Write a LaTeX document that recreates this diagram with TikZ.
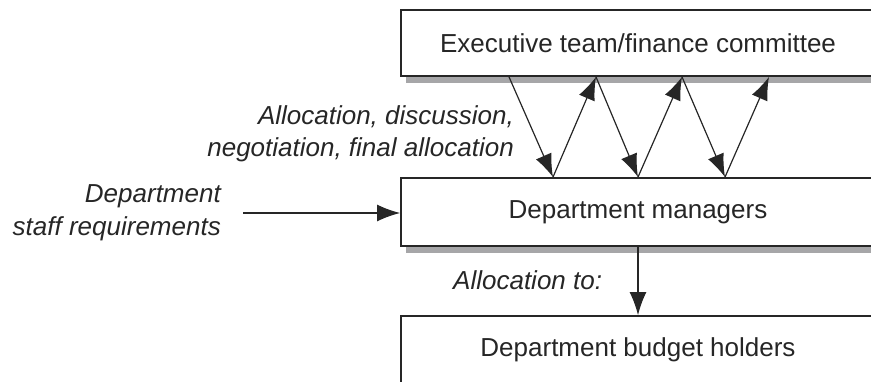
\documentclass[tikz,border=0pt]{standalone}
\usepackage{fontspec}
\setmainfont{Liberation Sans}
\usetikzlibrary{arrows.meta,shadows}
\definecolor{ink}{HTML}{262626}
\definecolor{shade}{HTML}{A6A6A8}
\begin{document}
\begin{tikzpicture}[x=1pt,y=-1pt,
  box/.style={draw=ink,line width=1.8pt,fill=white,minimum width=474pt,inner sep=0pt,
    font=\fontsize{26}{32}\selectfont,text=ink,
    drop shadow={shadow xshift=5pt,shadow yshift=-7pt,fill=shade,opacity=1}},
  lab/.style={font=\fontsize{26}{32.5}\selectfont\itshape,text=ink,inner sep=0pt,align=right},
  arr/.style={draw=ink,line width=1.2pt,-{Latex[length=23pt,width=17pt]}}]
\useasboundingbox (0,0) rectangle (871,382);
\clip (0,0) rectangle (871,382);
\node[box,minimum height=66pt] (top) at (638,43) {Executive team/finance committee};
\node[box,minimum height=68pt] (mid) at (638,212) {Department managers};
\node[box,minimum height=67pt] (bot) at (638,349.5) {Department budget holders};
\coordinate (t1) at (509,0 |- top.south);
\coordinate (t2) at (596,0 |- top.south);
\coordinate (t3) at (682,0 |- top.south);
\coordinate (t4) at (769,0 |- top.south);
\coordinate (b1) at (553,0 |- mid.north);
\coordinate (b2) at (638,0 |- mid.north);
\coordinate (b3) at (725,0 |- mid.north);
\draw[arr] (t1) -- (b1);
\draw[arr] (b1) -- (t2);
\draw[arr] (t2) -- (b2);
\draw[arr] (b2) -- (t3);
\draw[arr] (t3) -- (b3);
\draw[arr] (b3) -- (t4);
\node[lab,anchor=east] (neg) at (514,134) {Allocation, discussion,\\negotiation, final allocation};
\node[lab,anchor=east] (req) at (221,213) {Department\\staff requirements};
\coordinate (reqend) at (243,213);
\draw[arr] (reqend) -- (mid.west |- reqend);
\node[lab,anchor=west] (allto) at (453,280) {Allocation to:};
\draw[arr] (mid.south) -- (bot.north);
\end{tikzpicture}
\end{document}
